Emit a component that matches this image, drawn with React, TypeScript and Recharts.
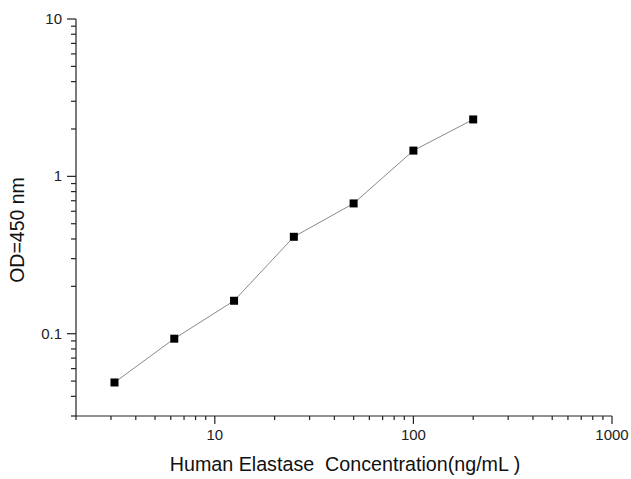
import { Line, LineChart, XAxis, YAxis } from "recharts";

// standard curve: concentration (ng/mL) vs OD at 450 nm
const concentrations = [3.125, 6.25, 12.5, 25, 50, 100, 200];
const odValues = [0.049, 0.093, 0.162, 0.413, 0.673, 1.458, 2.3];

const xTicks = [
  2, 3, 4, 5, 6, 7, 8, 9, 10, 20, 30, 40, 50, 60, 70, 80, 90, 100, 200, 300, 400,
  500, 600, 700, 800, 900, 1000,
];
const xLabeled = [10, 100, 1000];

const yTicks = [
  0.03, 0.04, 0.05, 0.06, 0.07, 0.08, 0.09, 0.1, 0.2, 0.3, 0.4, 0.5, 0.6, 0.7,
  0.8, 0.9, 1, 2, 3, 4, 5, 6, 7, 8, 9, 10,
];
const yLabeled = [0.1, 1, 10];

const data = concentrations.map((c, i) => ({ conc: c, od: odValues[i] }));

const FONT = '"Liberation Sans", Arial, sans-serif';
const AXIS = "#222";

function XTick({ x, y, payload }: any) {
  const major = xLabeled.includes(payload.value);
  return (
    <g>
      <line x1={x} x2={x} y1={y} y2={y + (major ? 8 : 4)} stroke={AXIS} strokeWidth={1.2} />
      {major && (
        <text x={x} y={y + 24} textAnchor="middle" fontSize={15} fill="#222" fontFamily={FONT}>
          {payload.value}
        </text>
      )}
    </g>
  );
}

function YTick({ x, y, payload }: any) {
  const major = yLabeled.includes(payload.value);
  return (
    <g>
      <line x1={x - (major ? 9 : 5)} x2={x} y1={y} y2={y} stroke={AXIS} strokeWidth={1.2} />
      {major && (
        <text x={x - 14} y={y + 5} textAnchor="end" fontSize={15} fill="#222" fontFamily={FONT}>
          {payload.value}
        </text>
      )}
    </g>
  );
}

function Square({ cx, cy, index }: any) {
  return <rect key={index} x={cx - 4} y={cy - 4} width={8} height={8} fill="#000" />;
}

export default function App() {
  return (
    <div style={{ position: "absolute", left: 0, top: 0, background: "#fff" }}>
      <LineChart
        width={631}
        height={479}
        data={data}
        margin={{ top: 19, right: 19, left: 0, bottom: 0 }}
      >
        <XAxis
          dataKey="conc"
          type="number"
          scale="log"
          domain={[2, 1000]}
          allowDataOverflow
          ticks={xTicks}
          interval={0}
          tickSize={0}
          tickMargin={0}
          tick={<XTick />}
          height={63}
          stroke={AXIS}
          strokeWidth={1.2}
          label={{
            content: ({ viewBox }: any) => (
              <text
                x={viewBox.x + viewBox.width / 2 + 1}
                y={viewBox.y + 55}
                textAnchor="middle"
                fontSize={19.7}
                fill="#111"
                fontFamily={FONT}
                style={{ whiteSpace: "pre" }}
              >
                {"Human Elastase  Concentration(ng/mL )"}
              </text>
            ),
          }}
        />
        <YAxis
          type="number"
          scale="log"
          domain={[0.03, 10]}
          allowDataOverflow
          ticks={yTicks}
          interval={0}
          tickSize={0}
          tickMargin={0}
          tick={<YTick />}
          width={76}
          stroke={AXIS}
          strokeWidth={1.2}
          label={{
            content: () => (
              <text
                x={24}
                y={230}
                transform="rotate(-90 24 230)"
                textAnchor="middle"
                fontSize={19.5}
                fill="#111"
                fontFamily={FONT}
              >
                OD=450 nm
              </text>
            ),
          }}
        />
        <Line
          dataKey="od"
          type="linear"
          stroke="#8a8a8a"
          strokeWidth={1}
          dot={<Square />}
          activeDot={false}
          isAnimationActive={false}
        />
      </LineChart>
    </div>
  );
}
